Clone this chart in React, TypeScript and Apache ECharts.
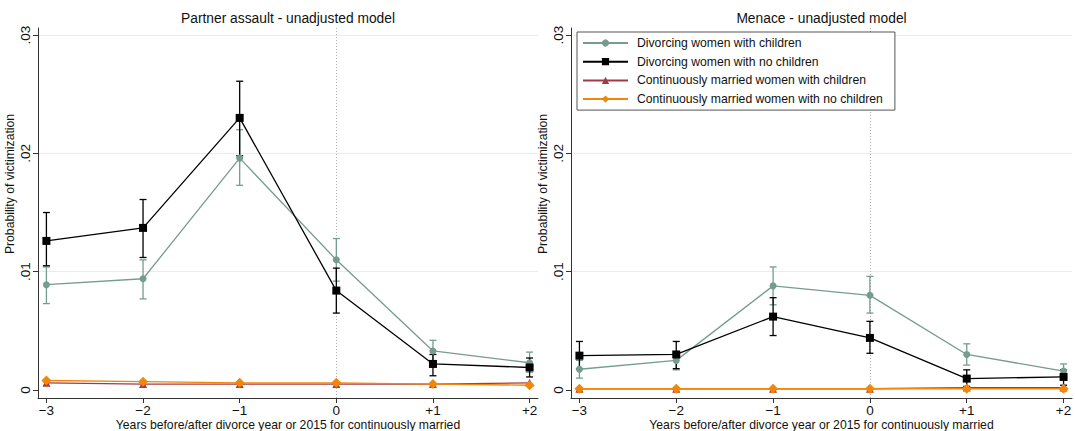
import React, { useEffect, useRef } from "react";
import * as echarts from "echarts";

const years = [-3, -2, -1, 0, 1, 2];
const xTickLabels = ["\u22123", "\u22122", "\u22121", "0", "+1", "+2"];
const yTicks = [0, 0.01, 0.02, 0.03];
const yTickLabels = ["0", ".01", ".02", ".03"];

const seriesNames = [
  "Divorcing women with children",
  "Divorcing women with no children",
  "Continuously married women with children",
  "Continuously married women with no children",
];

// Partner assault
const paDivChild = [0.0089, 0.0094, 0.0196, 0.011, 0.0033, 0.0023];
const paDivChildLo = [0.0073, 0.0077, 0.0173, 0.0092, 0.0024, 0.0015];
const paDivChildHi = [0.0104, 0.011, 0.022, 0.0128, 0.0042, 0.0032];
const paDivNoChild = [0.0126, 0.0137, 0.023, 0.0084, 0.0022, 0.0019];
const paDivNoChildLo = [0.0105, 0.0112, 0.0198, 0.0065, 0.0012, 0.0011];
const paDivNoChildHi = [0.015, 0.0161, 0.0261, 0.0103, 0.003, 0.0027];
const paMarChild = [0.0006, 0.0005, 0.0005, 0.0005, 0.0005, 0.0006];
const paMarNoChild = [0.0008, 0.0007, 0.0006, 0.0006, 0.0005, 0.0004];

// Menace
const meDivChild = [0.00175, 0.0025, 0.0088, 0.008, 0.003, 0.0016];
const meDivChildLo = [0.001, 0.0017, 0.0072, 0.0065, 0.0021, 0.001];
const meDivChildHi = [0.0025, 0.0031, 0.0104, 0.0096, 0.0039, 0.0022];
const meDivNoChild = [0.0029, 0.003, 0.0062, 0.0044, 0.00096, 0.0011];
const meDivNoChildLo = [0.0018, 0.0018, 0.0046, 0.0031, 0.0003, 0.0004];
const meDivNoChildHi = [0.0041, 0.0041, 0.0078, 0.0058, 0.0017, 0.0017];
const meMarChild = [0.0001, 0.0001, 0.0001, 0.0001, 0.0002, 0.0002];
const meMarNoChild = [0.0001, 0.0001, 0.0001, 0.0001, 0.0001, 0.0001];

const titles = ["Partner assault - unadjusted model", "Menace - unadjusted model"];
const xTitle = "Years before/after divorce year or 2015 for continuously married";
const yTitle = "Probability of victimization";

const COLORS = ["#759c90", "#000000", "#a23a45", "#f0860a"];
const SYMBOLS = ["circle", "rect", "triangle", "diamond"];
const SYMSIZE = [7, 8, 8, 10];
const FONT = "Liberation Sans, Arial, sans-serif";

const GRIDS = [
  { left: 38, top: 28, width: 500, height: 370 },
  { left: 571, top: 28, width: 501, height: 370 },
];

const zip = (a: number[]) => years.map((x, i) => [x, a[i]]);
const zip3 = (lo: number[], hi: number[]) => years.map((x, i) => [x, lo[i], hi[i]]);

function errBar(idx: number, color: string, lo: number[], hi: number[]) {
  return {
    type: "custom",
    xAxisIndex: idx,
    yAxisIndex: idx,
    z: 1,
    silent: true,
    encode: { x: 0, y: [1, 2] },
    data: zip3(lo, hi),
    renderItem: (params: any, api: any) => {
      const x = api.value(0);
      const pLo = api.coord([x, api.value(1)]);
      const pHi = api.coord([x, api.value(2)]);
      const w = 3.5;
      const style = { stroke: color, lineWidth: 1.3 };
      return {
        type: "group",
        children: [
          { type: "line", shape: { x1: pLo[0], y1: pLo[1], x2: pHi[0], y2: pHi[1] }, style },
          { type: "line", shape: { x1: pLo[0] - w, y1: pLo[1], x2: pLo[0] + w, y2: pLo[1] }, style },
          { type: "line", shape: { x1: pHi[0] - w, y1: pHi[1], x2: pHi[0] + w, y2: pHi[1] }, style },
        ],
      };
    },
  };
}

function lineSeries(idx: number, k: number, vals: number[], withMarks: boolean) {
  const s: any = {
    type: "line",
    name: seriesNames[k],
    xAxisIndex: idx,
    yAxisIndex: idx,
    z: 2 + k,
    data: zip(vals),
    symbol: SYMBOLS[k],
    symbolSize: SYMSIZE[k],
    showAllSymbol: true,
    lineStyle: { color: COLORS[k], width: 1.3 },
    itemStyle: { color: COLORS[k] },
    emphasis: { disabled: true },
  };
  if (withMarks) {
    s.markLine = {
      silent: true,
      symbol: "none",
      label: { show: false },
      animation: false,
      z: 0,
      data: [
        ...yTicks.slice(1).map((v) => ({ yAxis: v, lineStyle: { color: "#e3eef0", width: 1, type: "solid" } })),
        { xAxis: 0, lineStyle: { color: "#b0b0b0", width: 1, type: [1, 2] } },
      ],
    };
  }
  return s;
}

export default function App() {
  const ref = useRef<HTMLDivElement>(null);
  useEffect(() => {
    if (!ref.current) return;
    const chart = echarts.init(ref.current, undefined, { renderer: "svg" });

    const xAxes = GRIDS.map((_, i) => ({
      type: "value",
      gridIndex: i,
      min: -3.087,
      max: 2.087,
      axisLine: { show: true, onZero: false, lineStyle: { color: "#333", width: 1 } },
      axisTick: { show: true, customValues: years, length: 5, lineStyle: { color: "#333" } },
      axisLabel: {
        show: true,
        customValues: years,
        formatter: (v: number) => xTickLabels[years.indexOf(Math.round(v))] ?? "",
        color: "#111",
        fontSize: 13.5,
        fontFamily: FONT,
        margin: 5,
      },
      splitLine: { show: false },
    }));
    const yAxes = GRIDS.map((_, i) => ({
      type: "value",
      gridIndex: i,
      min: -0.00068,
      max: 0.0306,
      axisLine: { show: true, onZero: false, lineStyle: { color: "#333", width: 1 } },
      axisTick: { show: true, customValues: yTicks, length: 5, lineStyle: { color: "#333" } },
      axisLabel: {
        show: true,
        customValues: yTicks,
        rotate: 90,
        formatter: (v: number) => {
          const j = yTicks.findIndex((t) => Math.abs(t - v) < 1e-6);
          return j >= 0 ? yTickLabels[j] : "";
        },
        color: "#111",
        fontSize: 13.5,
        fontFamily: FONT,
        margin: 6,
      },
      splitLine: { show: false },
    }));

    const panels = [
      { ch: paDivChild, chLo: paDivChildLo, chHi: paDivChildHi, nc: paDivNoChild, ncLo: paDivNoChildLo, ncHi: paDivNoChildHi, mc: paMarChild, mn: paMarNoChild },
      { ch: meDivChild, chLo: meDivChildLo, chHi: meDivChildHi, nc: meDivNoChild, ncLo: meDivNoChildLo, ncHi: meDivNoChildHi, mc: meMarChild, mn: meMarNoChild },
    ];

    const series: any[] = [];
    panels.forEach((p, i) => {
      series.push(errBar(i, COLORS[0], p.chLo, p.chHi));
      series.push(errBar(i, COLORS[1], p.ncLo, p.ncHi));
      series.push(lineSeries(i, 0, p.ch, true));
      series.push(lineSeries(i, 1, p.nc, false));
      series.push(lineSeries(i, 2, p.mc, false));
      series.push(lineSeries(i, 3, p.mn, false));
    });

    const graphics: any[] = [];
    GRIDS.forEach((g, i) => {
      const cx = g.left + g.width / 2;
      graphics.push({
        type: "text",
        x: cx,
        y: 18,
        style: { text: titles[i], fill: "#111", font: `13.8px ${FONT}`, align: "center", verticalAlign: "middle" },
      });
      graphics.push({
        type: "text",
        x: cx,
        y: 425,
        style: { text: xTitle, fill: "#111", font: `12.2px ${FONT}`, align: "center", verticalAlign: "middle" },
      });
      graphics.push({
        type: "text",
        x: g.left - 28,
        y: 184,
        rotation: Math.PI / 2,
        style: { text: yTitle, fill: "#111", font: `12.2px ${FONT}`, align: "center", verticalAlign: "middle" },
      });
    });

    chart.setOption({
      animation: false,
      backgroundColor: "#ffffff",
      grid: GRIDS.map((g) => ({ ...g, containLabel: false })),
      xAxis: xAxes,
      yAxis: yAxes,
      legend: {
        show: true,
        data: seriesNames,
        orient: "vertical",
        left: 577,
        top: 32,
        itemWidth: 45,
        itemHeight: 9,
        itemGap: 6.7,
        padding: [5, 12, 5, 5],
        borderColor: "#555",
        borderWidth: 1,
        backgroundColor: "#fff",
        selectedMode: false,
        textStyle: { color: "#111", fontSize: 12.2, fontFamily: FONT, padding: [0, 0, 0, 4] },
      },
      graphic: graphics,
      series,
    });

    return () => chart.dispose();
  }, []);

  return (
    <div
      ref={ref}
      style={{ position: "fixed", left: 0, top: 0, width: 1075, height: 431, background: "#fff" }}
    />
  );
}
